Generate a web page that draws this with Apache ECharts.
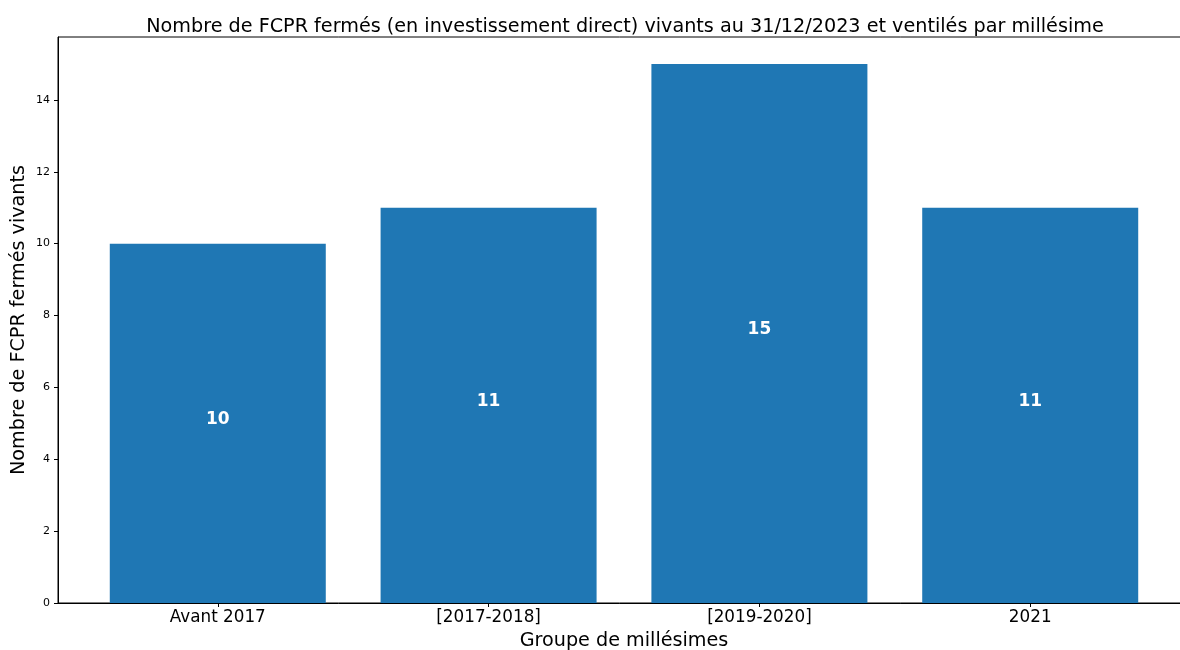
<!DOCTYPE html>
<html><head><meta charset="utf-8">
<script src="https://cdn.jsdelivr.net/npm/echarts@6/dist/echarts.min.js"></script>
<style>html,body{margin:0;padding:0;background:#fff}#c{width:1180px;height:650px}</style>
</head><body><div id="c"></div>
<script>
const categories = ["Avant 2017", "[2017-2018]", "[2019-2020]", "2021"];
const counts = [10, 11, 15, 11];
const yTicks = [0, 2, 4, 6, 8, 10, 12, 14];

const font = "DejaVu Sans";
const chart = echarts.init(document.getElementById('c'), null, {renderer: 'canvas'});
const positions = categories.map((c, i) => i);
chart.setOption({
  animation: false,
  textStyle: {fontFamily: font},
  title: {
    text: "Nombre de FCPR fermés (en investissement direct) vivants au 31/12/2023 et ventilés par millésime",
    left: 620, top: 13, textAlign: 'center',
    textStyle: {fontFamily: font, fontSize: 19.2, fontWeight: 'normal', color: '#000'}
  },
  grid: {left: 58, top: 37, right: -10, bottom: 47, outerBoundsMode: 'none', containLabel: false,
         show: true, borderColor: '#000', borderWidth: 1, backgroundColor: 'transparent'},
  xAxis: {
    type: 'value', min: -0.59, max: 3.59,
    splitLine: {show: false},
    axisLine: {show: true, onZero: false, lineStyle: {color: '#000', width: 1}},
    axisTick: {show: true, customValues: positions, length: 4, lineStyle: {color: '#000'}},
    axisLabel: {customValues: positions, formatter: v => categories[Math.round(v)], fontFamily: font, fontSize: 16.8, color: '#000', margin: 6},
    name: "Groupe de millésimes", nameLocation: 'middle', nameGap: 29,
    nameTextStyle: {fontFamily: font, fontSize: 19.2, color: '#000'}
  },
  yAxis: {
    type: 'value', min: 0, max: 15.75,
    splitLine: {show: false},
    axisLine: {show: true, onZero: false, lineStyle: {color: '#000', width: 1}},
    axisTick: {show: true, customValues: yTicks, length: 4, lineStyle: {color: '#000'}},
    axisLabel: {customValues: yTicks, fontFamily: font, fontSize: 11, color: '#000', margin: 8},
    name: "Nombre de FCPR fermés vivants", nameLocation: 'middle', nameGap: 29, nameMoveOverlap: false,
    nameTextStyle: {fontFamily: font, fontSize: 19.2, color: '#000'}
  },
  series: [{
    type: 'bar',
    data: counts.map((v, i) => [i, v]),
    barWidth: 216,
    itemStyle: {color: '#1f77b4'},
    label: {show: true, position: 'inside', color: '#fff', fontWeight: 'bold', fontSize: 17, fontFamily: font, offset: [0, -4]}
  }]
});
</script></body></html>
